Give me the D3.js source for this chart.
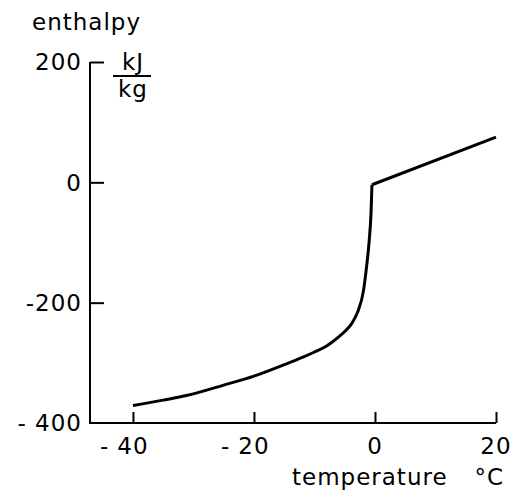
<!DOCTYPE html>
<html><head><meta charset="utf-8">
<script src="https://cdn.jsdelivr.net/npm/d3@7"></script>
<style>
html,body{margin:0;padding:0;background:#fff;}
svg text{font-family:"DejaVu Sans",sans-serif;font-size:23px;letter-spacing:1px;fill:#000;}
</style></head>
<body>
<svg id="c" width="516" height="494"></svg>
<script>
// Data
const iceTemp = [-40, -35, -31, -25, -20, -15, -12, -10, -8, -7, -6, -5, -4, -3.4, -2.8, -1.9, -1.4, -0.95, -0.66, -0.5];
const iceEnthalpy = [-371, -362, -354, -337, -322, -303, -291, -282, -272, -265, -257, -248, -237, -227, -214, -180, -141, -96, -52, -4];
const waterTemp = [-0.5, 20];
const waterEnthalpy = [-4, 75];
const xTicks = [-40, -20, 0, 20];
const yTicks = [200, 0, -200, -400];
const yTickLabels = ["200", "0", "-200", "- 400"];

const svg = d3.select("#c");
const x = d3.scaleLinear().domain([-47.1, 20]).range([90, 496]);
const y = d3.scaleLinear().domain([-400, 200]).range([423, 62]);

// axes lines
svg.append("path")
  .attr("d", `M${x(-47.1)},${y(200)}L${x(-47.1)},${y(-400)}L${x(20)},${y(-400)}`)
  .attr("fill", "none").attr("stroke", "#000").attr("stroke-width", 2);

// y axis ticks
const yAxis = d3.axisRight(y).tickValues(yTicks.filter(v => v !== -400)).tickSize(14).tickFormat("");
const gy = svg.append("g").attr("transform", `translate(${x(-47.1)},0)`).call(yAxis);
gy.select(".domain").remove();
gy.selectAll("line").attr("stroke", "#000").attr("stroke-width", 2);

// y labels
svg.selectAll(".ylab").data(yTicks).enter().append("text")
  .attr("class", "ylab")
  .attr("x", 82).attr("y", d => y(d)).attr("dy", "0.36em")
  .attr("text-anchor", "end")
  .text((d, i) => yTickLabels[i]);

// x labels: digits centred on tick, dash separate
xTicks.forEach(v => {
  const t = svg.append("text").attr("x", x(v)).attr("y", y(-400) + 31)
    .attr("text-anchor", "middle").text(String(Math.abs(v)));
  if (v < 0) {
    const w = t.node().getComputedTextLength();
    svg.append("text").attr("x", x(v) - w / 2 - 8).attr("y", y(-400) + 31)
      .attr("text-anchor", "end").text("-");
  }
});

// x axis ticks
const xAxis = d3.axisTop(x).tickValues(xTicks).tickSize(11).tickFormat("");
const gx = svg.append("g").attr("transform", `translate(0,${y(-400)})`).call(xAxis);
gx.select(".domain").remove();
gx.selectAll("line").attr("stroke", "#000").attr("stroke-width", 2);

// curves
const line = d3.line().x(d => x(d[0])).y(d => y(d[1])).curve(d3.curveMonotoneX);
svg.append("path")
  .datum(iceTemp.map((t, i) => [t, iceEnthalpy[i]]))
  .attr("d", line).attr("fill", "none").attr("stroke", "#000").attr("stroke-width", 3)
  .attr("stroke-linejoin", "round");
svg.append("path")
  .datum(waterTemp.map((t, i) => [t, waterEnthalpy[i]]))
  .attr("d", d3.line().x(d => x(d[0])).y(d => y(d[1])))
  .attr("fill", "none").attr("stroke", "#000").attr("stroke-width", 3);

// labels
svg.append("text").attr("x", 32).attr("y", 30).text("enthalpy");
svg.append("text").attr("x", 133).attr("y", 70).attr("text-anchor", "middle").text("kJ");
svg.append("line").attr("x1", 113).attr("x2", 151).attr("y1", 76).attr("y2", 76)
  .attr("stroke", "#000").attr("stroke-width", 2);
svg.append("text").attr("x", 133).attr("y", 97).attr("text-anchor", "middle").text("kg");
svg.append("text").attr("x", 292).attr("y", 485).text("temperature");
svg.append("text").attr("x", 504).attr("y", 485).attr("text-anchor", "end").text("°C");
</script>
</body></html>
